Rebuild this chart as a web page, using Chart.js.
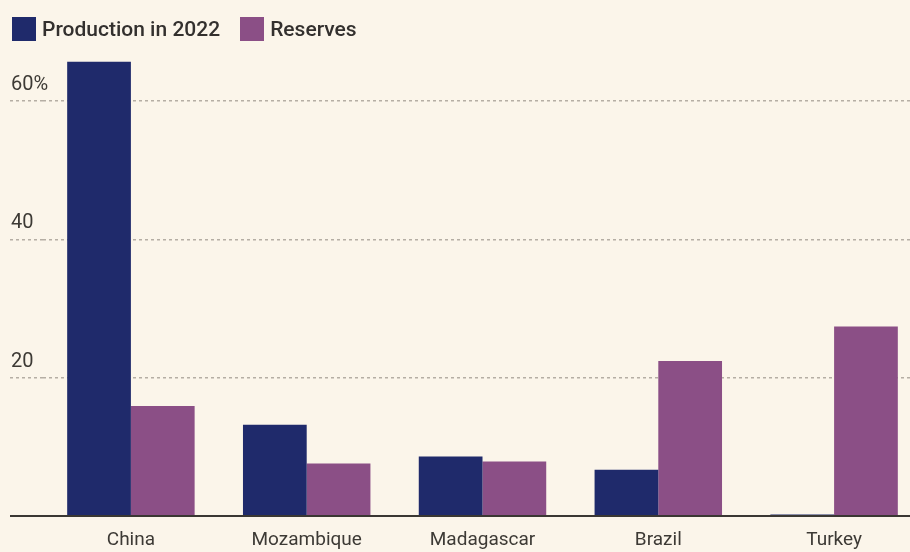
<!DOCTYPE html>
<html>
<head>
<meta charset="utf-8">
<script src="https://cdn.jsdelivr.net/npm/chart.js@4/dist/chart.umd.min.js"></script>
<style>
  html, body { margin: 0; padding: 0; background: #fbf5ea; overflow: hidden; }
  #wrap { position: relative; width: 910px; height: 552px; overflow: hidden; }
  #chart { position: absolute; left: 0; top: 0; }
  #legend { position: absolute; left: 12px; top: 17px; display: flex; align-items: center;
    font-family: Roboto, sans-serif; font-weight: 500; font-size: 21px; color: #33302e; }
  #legend .item { display: flex; align-items: center; margin-right: 20px; }
  #legend .box { width: 24px; height: 24px; margin-right: 6px; }
</style>
</head>
<body>
<div id="wrap">
  <canvas id="chart" width="932" height="552" style="width:932px;height:552px"></canvas>
  <div id="legend"></div>
</div>
<script>
// data
const countries = ["China", "Mozambique", "Madagascar", "Brazil", "Turkey"];
const production = [65.7, 13.2, 8.6, 6.7, 0.2];
const reserves = [15.9, 7.6, 7.9, 22.4, 27.4];
const seriesNames = ["Production in 2022", "Reserves"];
const yTicks = [0, 20, 40, 60];
const yTickLabels = ["", "20", "40", "60%"];

const navy = "#1f2a6b";
const purple = "#8b4f86";
const textColor = "#3d3a35";
const gridColor = "#b5aea4";

// html legend
const legend = document.getElementById("legend");
[navy, purple].forEach(function (c, i) {
  const item = document.createElement("div");
  item.className = "item";
  item.innerHTML = '<span class="box" style="background:' + c + '"></span><span>' + seriesNames[i] + "</span>";
  legend.appendChild(item);
});

const ctx = document.getElementById("chart");
new Chart(ctx, {
  type: "bar",
  data: {
    labels: countries,
    datasets: [
      { label: seriesNames[0], data: production, backgroundColor: navy },
      { label: seriesNames[1], data: reserves, backgroundColor: purple },
    ],
  },
  options: {
    responsive: false,
    animation: false,
    layout: { padding: { left: 10, right: 10, top: 32, bottom: 0 } },
    datasets: { bar: { categoryPercentage: 0.725, barPercentage: 1 } },
    plugins: { legend: { display: false }, tooltip: { enabled: false } },
    scales: {
      x: {
        grid: { display: false, drawTicks: false },
        border: { display: true, color: "#3a3733", width: 2 },
        afterFit: function (scale) {
          scale.height = 36;
        },
        ticks: {
          color: textColor,
          padding: 13,
          font: { family: "Roboto", size: 19 },
        },
      },
      y: {
        min: 0,
        max: 70,
        afterBuildTicks: function (scale) {
          scale.ticks = yTicks.map(function (v) { return { value: v }; });
        },
        afterFit: function (scale) {
          scale.width = 33;
        },
        border: { display: false, dash: [3, 3] },
        grid: {
          color: function (c) { return c.tick.value === 0 ? "#3a3733" : gridColor; },
          lineWidth: function (c) { return c.tick.value === 0 ? 2 : 1.5; },
          drawTicks: true,
          tickLength: 33,
          tickColor: function (c) { return c.tick.value === 0 ? "#3a3733" : gridColor; },
          tickWidth: function (c) { return c.tick.value === 0 ? 2 : 1.5; },
          tickBorderDash: function (c) { return c.tick.value === 0 ? [] : [3, 3]; },
        },
        ticks: {
          // labels sit above each gridline, left aligned with the tick marks
          mirror: true,
          crossAlign: "near",
          labelOffset: -16,
          padding: -32,
          color: textColor,
          font: { family: "Roboto", size: 20 },
          callback: function (v, i) { return yTickLabels[i]; },
        },
      },
    },
  },
});
</script>
</body>
</html>
